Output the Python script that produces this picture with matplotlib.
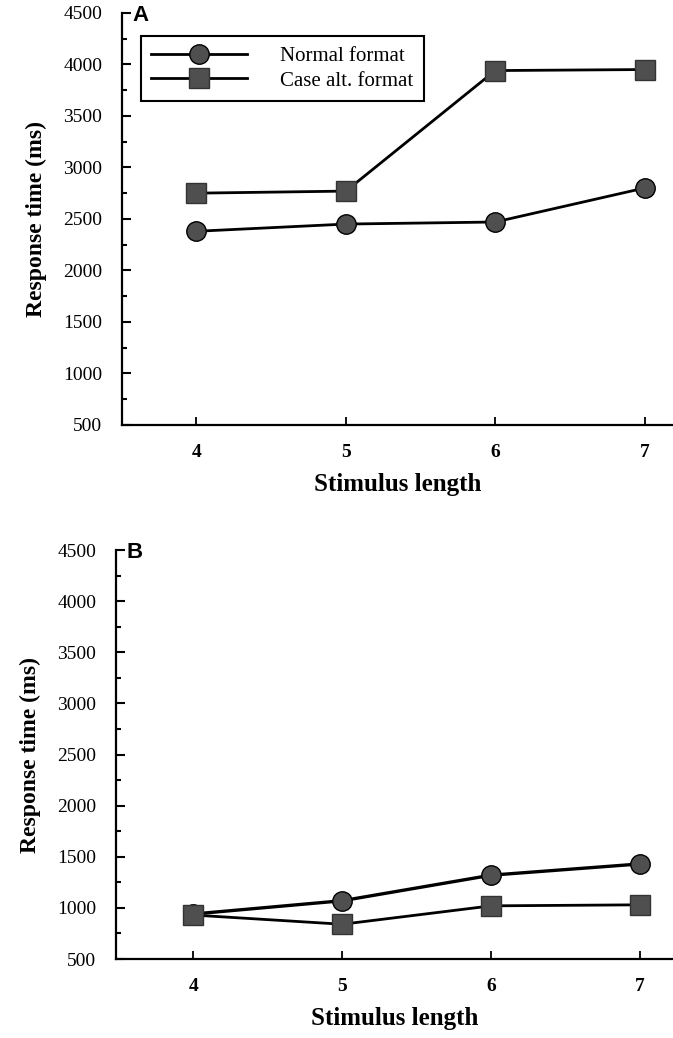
import matplotlib
matplotlib.use("Agg")
import matplotlib.pyplot as plt
from matplotlib.ticker import MultipleLocator

# data
lengths = [4, 5, 6, 7]
normal_A = [2380, 2450, 2470, 2800]
casealt_A = [2750, 2770, 3940, 3950]
normal_B = [940, 1070, 1320, 1430]
casealt_B = [930, 840, 1020, 1030]
y_ticks = [500, 1000, 1500, 2000, 2500, 3000, 3500, 4000, 4500]

plt.rcParams['font.family'] = ['Liberation Serif', 'DejaVu Serif']

MFC = '#4f4f4f'


def style_axes(ax, letter, xlim):
    ax.set_xlim(*xlim)
    ax.set_ylim(500, 4500)
    ax.set_xticks(lengths)
    ax.set_yticks(y_ticks)
    ax.yaxis.set_minor_locator(MultipleLocator(250))
    for s in ['top', 'right']:
        ax.spines[s].set_visible(False)
    for s in ['left', 'bottom']:
        ax.spines[s].set_linewidth(1.6)
    ax.tick_params(axis='y', which='major', direction='in', length=6.5, width=1.5,
                   labelsize=14, pad=14)
    ax.tick_params(axis='y', which='minor', direction='in', length=3.5, width=1.5)
    ax.tick_params(axis='x', which='major', direction='in', length=6, width=1.3,
                   labelsize=14, pad=14)
    for t in ax.get_xticklabels():
        t.set_fontweight('bold')
    ax.set_xlabel('Stimulus length', fontsize=18, fontweight='bold', labelpad=8)
    ax.set_ylabel('Response time (ms)', fontsize=17, fontweight='bold', labelpad=12)
    ax.text(0.02, 0.993, letter, transform=ax.transAxes, va='center', ha='left',
            fontsize=16, fontweight='bold', family=['Liberation Sans', 'DejaVu Sans'])


fig = plt.figure(figsize=(6.73, 10.38), dpi=100)
axA = fig.add_axes([0.181, 0.5906, 0.819, 0.397])
axB = fig.add_axes([0.172, 0.0761, 0.828, 0.394])

axA.plot(lengths, normal_A, color='black', lw=2, marker='o', ms=14,
         mfc=MFC, mec='black', mew=1, label='Normal format')
axA.plot(lengths, casealt_A, color='black', lw=2, marker='s', ms=14,
         mfc=MFC, mec='#333333', mew=1, label='Case alt. format')
style_axes(axA, 'A', (3.5, 7.19))

leg = axA.legend(loc='upper left', bbox_to_anchor=(0.034, 0.944), fontsize=15,
                 handlelength=4.6, handletextpad=1.6, borderpad=0.5,
                 labelspacing=0.25, borderaxespad=0, fancybox=False,
                 edgecolor='black', framealpha=1)
leg.get_frame().set_linewidth(1.5)

axB.plot(lengths, normal_B, color='black', lw=2.4, marker='o', ms=14,
         mfc=MFC, mec='black', mew=1)
axB.plot(lengths, casealt_B, color='black', lw=2, marker='s', ms=14,
         mfc=MFC, mec='#333333', mew=1)
style_axes(axB, 'B', (3.48, 7.22))

fig.savefig('out.png', dpi=100)
